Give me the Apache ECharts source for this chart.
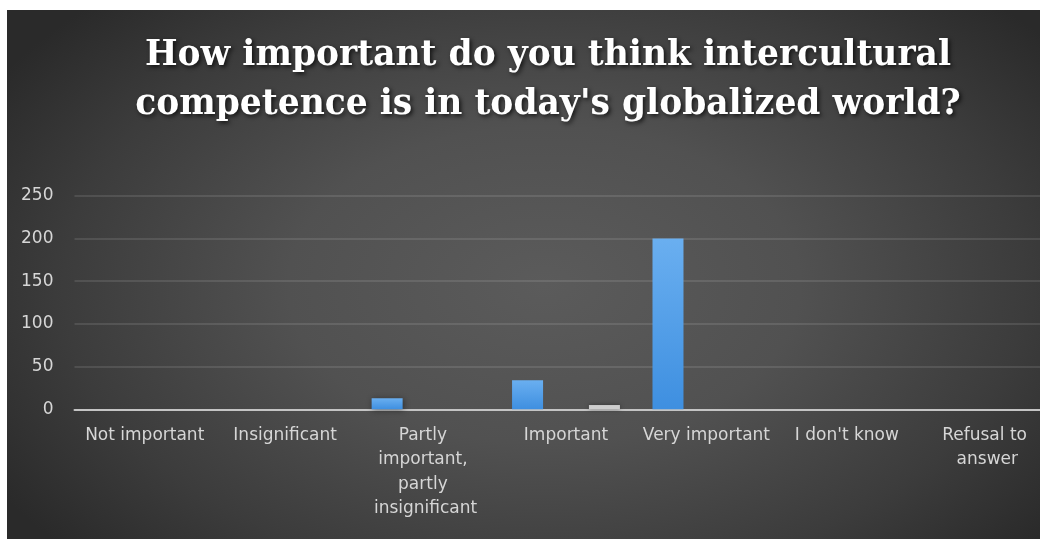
<!DOCTYPE html>
<html>
<head>
<meta charset="utf-8">
<script src="https://cdn.jsdelivr.net/npm/echarts@6/dist/echarts.min.js"></script>
<style>
    html, body { margin: 0; padding: 0; background: #ffffff; }
    #main {
        position: absolute;
        left: 7px;
        top: 10px;
        width: 1033px;
        height: 529px;
        background: radial-gradient(ellipse 62% 75% at 52% 52%, #5b5b5b 0%, #515151 40%, #3c3c3c 75%, #2a2a2a 100%);
    }
</style>
</head>
<body>
<div id="main"></div>
<script>
var categories = ['Not important', 'Insignificant', 'Partly important, partly insignificant',
    'Important', 'Very important', "I don't know", 'Refusal to answer'];
var series1 = [0, 0, 13, 34, 200, 0, 0];
var series2 = [0, 0, 0, 5, 0, 0, 0];
var yTicks = [0, 50, 100, 150, 200, 250];

var myChart = echarts.init(document.getElementById('main'), null, { renderer: 'canvas' });
var option = {
    backgroundColor: 'transparent',
    title: {
        text: "How important do you think intercultural\ncompetence is in today's globalized world?",
        left: 536,
        top: 16.5,
        textAlign: 'center',
        textStyle: {
            color: '#ffffff',
            fontFamily: 'DejaVu Serif',
            fontWeight: 'bold',
            fontSize: 34.5,
            lineHeight: 49,
            textShadowColor: 'rgba(0, 0, 0, 0.7)',
            textShadowBlur: 4,
            textShadowOffsetX: 2,
            textShadowOffsetY: 2
        }
    },
    grid: {
        left: 67.5,
        top: 185.7,
        width: 983,
        height: 213.6,
        containLabel: false,
        outerBoundsMode: 'none'
    },
    xAxis: {
        type: 'category',
        data: categories,
        axisTick: { show: false },
        axisLine: {
            show: true,
            lineStyle: { color: '#c4c4c4', width: 2 }
        },
        axisLabel: {
            interval: 0,
            color: '#d6d6d6',
            fontFamily: 'DejaVu Sans',
            fontSize: 17,
            lineHeight: 24.5,
            width: 133,
            overflow: 'break',
            margin: 14,
            hideOverlap: false
        }
    },
    yAxis: {
        type: 'value',
        min: yTicks[0],
        max: yTicks[yTicks.length - 1],
        interval: 50,
        axisLine: { show: false },
        axisTick: { show: false },
        axisLabel: {
            color: '#d6d6d6',
            fontFamily: 'DejaVu Sans',
            fontSize: 17,
            margin: 21
        },
        splitLine: {
            show: true,
            lineStyle: { color: 'rgba(255, 255, 255, 0.14)', width: 1.5 }
        }
    },
    series: [{
        name: 'Series1',
        type: 'bar',
        data: series1,
        barWidth: 31,
        barGap: '148%',
        itemStyle: {
            color: {
                type: 'linear', x: 0, y: 0, x2: 0, y2: 1,
                colorStops: [
                    { offset: 0, color: '#6aaff0' },
                    { offset: 1, color: '#3e8fe0' }
                ]
            },
            shadowColor: 'rgba(0, 0, 0, 0.45)',
            shadowBlur: 6,
            shadowOffsetX: 1,
            shadowOffsetY: 1
        }
    }, {
        name: 'Series2',
        type: 'bar',
        data: series2,
        barWidth: 31,
        itemStyle: {
            color: '#cdcdcd',
            shadowColor: 'rgba(0, 0, 0, 0.4)',
            shadowBlur: 4
        }
    }]
};
myChart.setOption(option);
</script>
</body>
</html>
